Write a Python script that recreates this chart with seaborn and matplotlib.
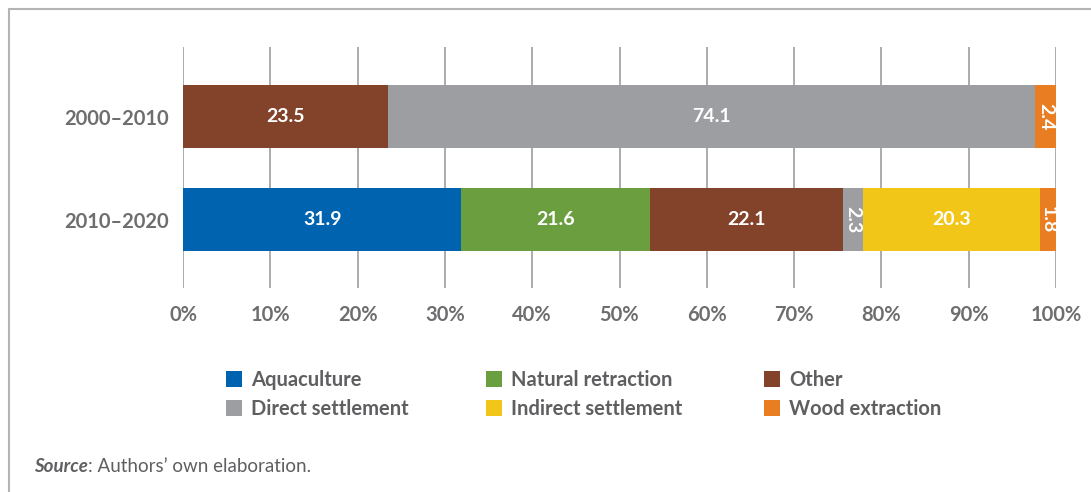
import numpy as np
import pandas as pd
import matplotlib
matplotlib.use("Agg")
import matplotlib.pyplot as plt
from matplotlib.patches import Patch
from matplotlib.lines import Line2D
import seaborn as sns

# Shares of mangrove loss drivers by period (%)
periods = ["2000–2010", "2010–2020"]
drivers = ["Aquaculture", "Natural retraction", "Other",
           "Direct settlement", "Indirect settlement", "Wood extraction"]
aquaculture = [0.0, 31.9]
natural_retraction = [0.0, 21.6]
other = [23.5, 22.1]
direct_settlement = [74.1, 2.3]
indirect_settlement = [0.0, 20.3]
wood_extraction = [2.4, 1.8]
tick_labels = ["0%", "10%", "20%", "30%", "40%", "50%", "60%", "70%", "80%", "90%", "100%"]

colors = ["#0063AF", "#6A9E3F", "#82432A", "#9D9EA2", "#F2C618", "#E97D21"]

values = np.array([aquaculture, natural_retraction, other,
                   direct_settlement, indirect_settlement, wood_extraction])
cumulative = values.cumsum(axis=0)

sns.set_theme(style="white")
plt.rcParams["font.family"] = ["Lato", "DejaVu Sans"]

fig = plt.figure(figsize=(10.91, 4.92), dpi=100)
ax = fig.add_axes([183 / 1091, 1 - 288 / 492, (1056 - 183) / 1091, (288 - 47) / 492])

# Stacked bars: draw cumulative totals from the outermost segment inwards
for i in range(len(drivers) - 1, -1, -1):
    df = pd.DataFrame({"period": periods, "total": cumulative[i]})
    sns.barplot(data=df, x="total", y="period", orient="h", color=colors[i],
                saturation=1, width=0.61, ax=ax, zorder=2, linewidth=0)

# Segment value labels
for i in range(len(drivers)):
    for j in range(len(periods)):
        v = values[i, j]
        if v <= 0:
            continue
        xc = cumulative[i, j] - v / 2
        rot = 270 if v < 5 else 0
        ax.text(xc, j, f"{v:.1f}", ha="center", va="center", rotation=rot,
                color="white", fontsize=14, fontweight="bold", zorder=3)

ax.set_xlim(0, 100)
ax.set_ylim(1.665, -0.675)
ax.set_xticks(np.arange(0, 101, 10))
ax.set_xticklabels(tick_labels)
ax.set_xlabel("")
ax.set_ylabel("")
ax.grid(axis="x", color="#ababab", linewidth=1.4, zorder=0)
ax.grid(axis="y", visible=False)
ax.set_axisbelow(True)
for s in ax.spines.values():
    s.set_visible(False)
ax.tick_params(axis="x", length=0, pad=12, labelsize=14.5, labelcolor="#6e6e70")
ax.tick_params(axis="y", length=0, pad=10, labelsize=14.5, labelcolor="#6e6e70")
for lab in ax.get_xticklabels() + ax.get_yticklabels():
    lab.set_fontweight("bold")

# Legend in three columns
col_x = [226 / 1091, 486 / 1091, 764 / 1091]
for c in range(3):
    idx = [c, c + 3]
    handles = [Patch(facecolor=colors[k], edgecolor="none") for k in idx]
    fig.legend(handles, [drivers[k] for k in idx], loc="upper left",
               bbox_to_anchor=(col_x[c], 1 - 370 / 492), frameon=False,
               handlelength=0.8, handleheight=0.8, handletextpad=0.45,
               labelspacing=0.45, borderpad=0, borderaxespad=0,
               prop={"size": 14.5, "weight": "bold"}, labelcolor="#5f5f61")

# Frame lines (top and left)
fig.add_artist(Line2D([9 / 1091, 1.0], [1 - 9 / 492, 1 - 9 / 492],
                      transform=fig.transFigure, color="#b4b4b4", linewidth=1.5))
fig.add_artist(Line2D([9 / 1091, 9 / 1091], [0.0, 1 - 9 / 492],
                      transform=fig.transFigure, color="#b4b4b4", linewidth=1.5))

# Source note
t1 = fig.text(34 / 1091, 1 - 467 / 492, "Source", fontsize=13.5, fontstyle="italic",
              fontweight="bold", color="#5f5f61", va="center", ha="left")
fig.canvas.draw()
bb = t1.get_window_extent()
fig.text(bb.x1 / fig.bbox.width, 1 - 467 / 492, ": Authors’ own elaboration.",
         fontsize=13.5, color="#5f5f61", va="center", ha="left")

fig.savefig("out.png", dpi=100)
